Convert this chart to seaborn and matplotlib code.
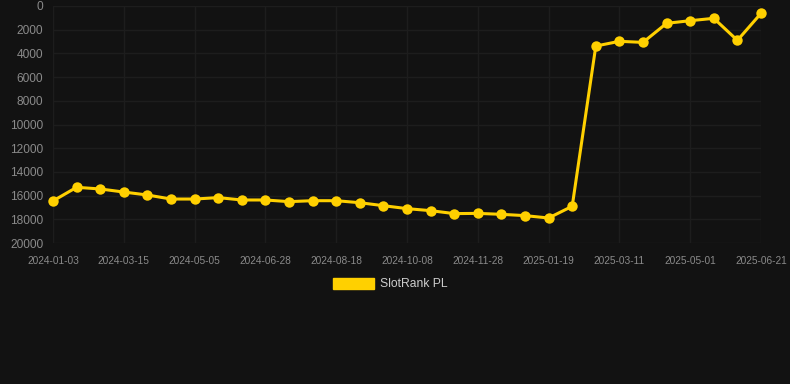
import matplotlib
matplotlib.use('Agg')

import matplotlib.pyplot as plt
import matplotlib.patches as mpatches
import seaborn as sns
import pandas as pd


dates = ['2024-01-03', '2024-01-27', '2024-02-20', '2024-03-15', '2024-04-01',
         '2024-04-18', '2024-05-05', '2024-05-23', '2024-06-10', '2024-06-28',
         '2024-07-15', '2024-08-01', '2024-08-18', '2024-09-04', '2024-09-21',
         '2024-10-08', '2024-10-25', '2024-11-11', '2024-11-28', '2024-12-15',
         '2025-01-01', '2025-01-19', '2025-02-05', '2025-02-22', '2025-03-11',
         '2025-03-28', '2025-04-14', '2025-05-01', '2025-05-18', '2025-06-04',
         '2025-06-21']
rank = [16450, 15300, 15440, 15700, 15950, 16290, 16290, 16170, 16370, 16370,
        16510, 16430, 16430, 16600, 16850, 17100, 17270, 17520, 17500, 17580,
        17690, 17890, 16900, 3380, 2980, 3070, 1460, 1240, 1040, 2900, 620]
series_name = 'SlotRank PL'
y_ticks = [0, 2000, 4000, 6000, 8000, 10000, 12000, 14000, 16000, 18000, 20000]

bg = '#121212'
yellow = '#FFD000'

plt.rcParams['font.family'] = ['Liberation Sans', 'DejaVu Sans']

df = pd.DataFrame({'idx': range(len(dates)), 'rank': rank})

fig = plt.figure(figsize=(7.9, 3.84), dpi=100, facecolor=bg)
ax = fig.add_axes([53 / 790, (384 - 243) / 384, (761 - 53) / 790, (243 - 6) / 384])
ax.set_facecolor(bg)

sns.lineplot(data=df, x='idx', y='rank', ax=ax, color=yellow, linewidth=2.2,
             marker='o', markersize=7.5, markeredgewidth=0, sort=False)
for ln in ax.lines:
    ln.set_clip_on(False)

ax.set_xlim(0, len(dates) - 1)
ax.set_ylim(20000, 0)
ax.set_yticks(y_ticks)
ax.set_yticklabels([str(v) for v in y_ticks])
tick_idx = list(range(0, len(dates), 3))
ax.set_xticks(tick_idx)
ax.set_xticklabels([dates[i] for i in tick_idx])

ax.grid(True, color='#1d1d1d', linewidth=1)
ax.set_axisbelow(True)
for s in ax.spines.values():
    s.set_visible(False)
ax.tick_params(axis='y', labelcolor='#8a8a8a', labelsize=8.6, length=0, pad=7)
ax.tick_params(axis='x', labelcolor='#8a8a8a', labelsize=7.3, length=0, pad=9)
ax.set_xlabel('')
ax.set_ylabel('')

handle = mpatches.Patch(facecolor=yellow, edgecolor=yellow, label=series_name)
fig.legend(handles=[handle], loc='center', bbox_to_anchor=(390 / 790, (384 - 284) / 384),
           frameon=False, labelcolor='#cccccc', fontsize=8.7,
           handlelength=3.4, handleheight=1.1, handletextpad=0.5)

fig.savefig('out.png', dpi=100, facecolor=bg)
